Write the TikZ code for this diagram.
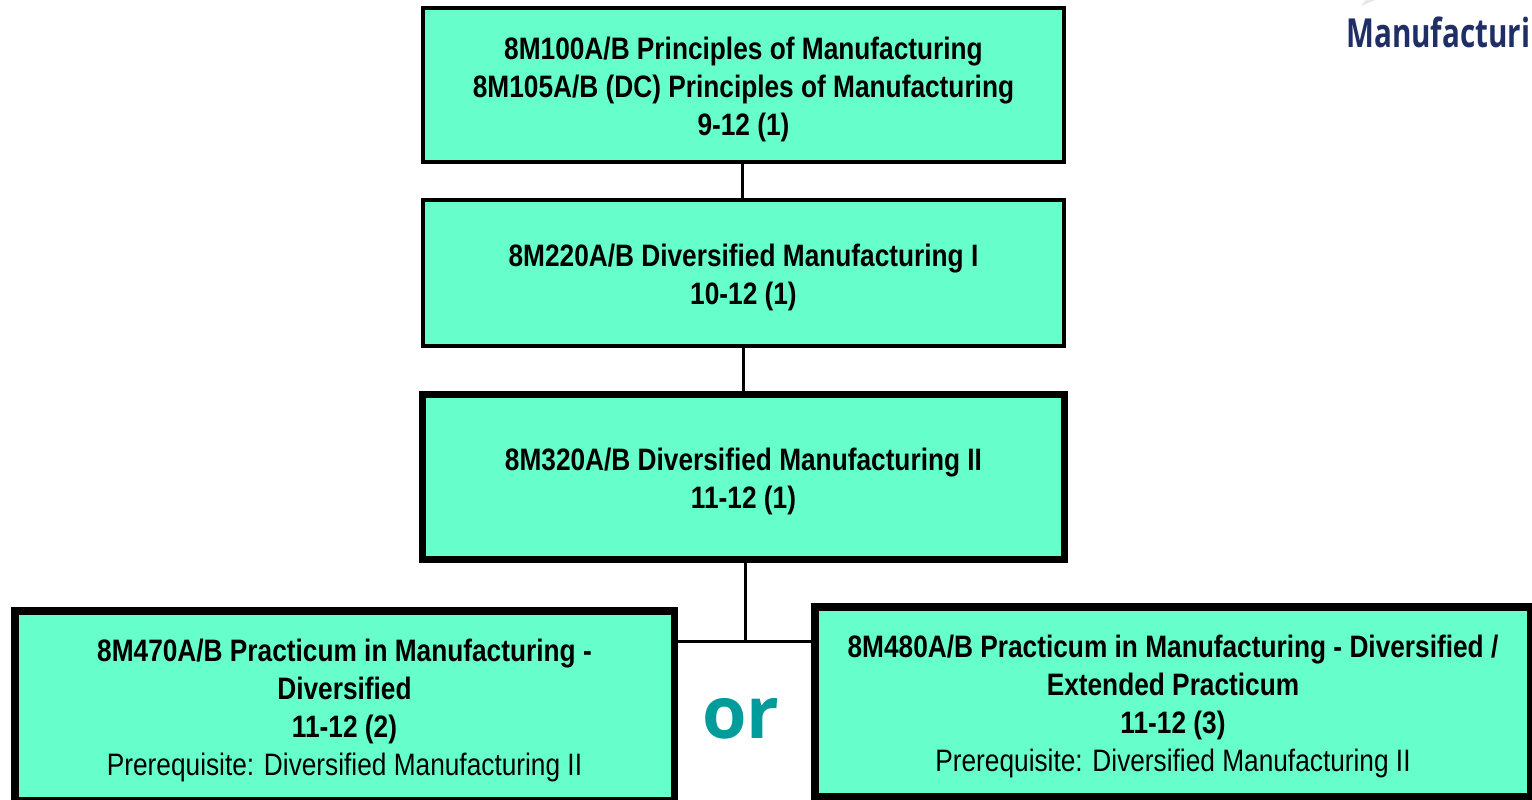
\documentclass[tikz,border=0pt]{standalone}
\usepackage{fontspec}
\setmainfont{Liberation Sans}[FakeStretch=0.847]
\newfontfamily\orfont{Open Sans}
\newfontfamily\logofont{Open Sans}[FakeStretch=0.74]
\definecolor{boxgreen}{HTML}{66FFCC}
\definecolor{orteal}{HTML}{009B9B}
\definecolor{logoblue}{HTML}{1F2F66}
\definecolor{sliver}{HTML}{E4E6EA}
\tikzset{
  course/.style={draw=black,fill=boxgreen,inner sep=0pt,align=center,text=black,
    font=\fontsize{31}{38}\selectfont\bfseries},
  thinbox/.style={course,line width=4pt},
  heavybox/.style={course,line width=7.5pt},
  link/.style={draw=black,line width=2.5pt},
}
\newcommand{\topgap}{\rule{0pt}{32pt}}
\newcommand{\prereq}{\mdseries Prerequisite: Diversified Manufacturing II}
\begin{document}
\begin{tikzpicture}[x=1pt,y=-1pt]
\useasboundingbox (0,0) rectangle (1532,800);
\clip (0,0) rectangle (1532,800);
\fill[white] (0,0) rectangle (1532,800);
\fill[sliver] (1361,6) -- (1375,0) -- (1366,0) -- cycle;
\node[anchor=base west,inner sep=0pt,text=logoblue,font=\logofont\fontsize{40}{40}\selectfont\bfseries] (logo) at (1346,48) {Manufacturi};
\node[thinbox,minimum width=641pt,minimum height=154pt] (a) at (743.5,85)
  {\topgap 8M100A/B Principles of Manufacturing\\8M105A/B (DC) Principles of Manufacturing\\9-12 (1)};
\node[thinbox,minimum width=641pt,minimum height=146pt] (b) at (743.5,273)
  {\topgap 8M220A/B Diversified Manufacturing I\\10-12 (1)};
\node[heavybox,minimum width=642pt,minimum height=165pt] (c) at (743.5,477)
  {\topgap 8M320A/B Diversified Manufacturing II\\11-12 (1)};
\node[heavybox,minimum width=659.5pt,minimum height=190pt] (d) at (344.5,706)
  {\topgap 8M470A/B Practicum in Manufacturing -\\Diversified\\11-12 (2)\\\prereq};
\node[heavybox,minimum width=716pt,minimum height=190pt] (e) at (1173,702)
  {\topgap 8M480A/B Practicum in Manufacturing - Diversified /\\Extended Practicum\\11-12 (3)\\\prereq};
\node[inner sep=0pt,anchor=base,text=orteal,font=\orfont\fontsize{72}{72}\selectfont\bfseries] (or) at (741,738) {or};
\coordinate (j) at (745.5,641.5);
\draw[link] ([xshift=-1pt]a.south) -- ([xshift=-1pt]b.north);
\draw[link] (b.south) -- (c.north);
\draw[link] (c.south -| j) -- (j);
\draw[link] (d.east |- j) -- (j) -- (e.west |- j);
\end{tikzpicture}
\end{document}
